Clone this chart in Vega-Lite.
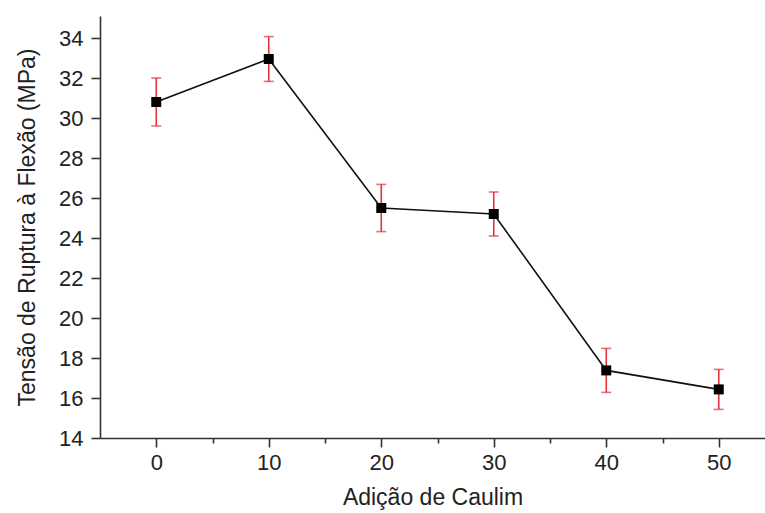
{
  "$schema": "https://vega.github.io/schema/vega-lite/v6.json",
  "width": 665,
  "height": 422,
  "autosize": {"type": "none"},
  "padding": {"left": 100, "top": 16, "right": 0, "bottom": 75},
  "background": "white",
  "config": {
    "view": {"stroke": null},
    "axis": {
      "labelFont": "Liberation Sans",
      "titleFont": "Liberation Sans",
      "labelFontSize": 22,
      "titleFontSize": 23,
      "titleFontWeight": "normal",
      "labelColor": "#222",
      "titleColor": "#222",
      "domainColor": "#333",
      "tickColor": "#333",
      "domainWidth": 1.6,
      "tickWidth": 1.6,
      "grid": false
    }
  },
  "data": {
    "values": [
      {"x": 0, "y": 30.8, "lo": 29.6, "hi": 32.0},
      {"x": 10, "y": 32.95, "lo": 31.83, "hi": 34.07},
      {"x": 20, "y": 25.5, "lo": 24.32, "hi": 26.68},
      {"x": 30, "y": 25.2, "lo": 24.1, "hi": 26.3},
      {"x": 40, "y": 17.38, "lo": 16.28, "hi": 18.48},
      {"x": 50, "y": 16.43, "lo": 15.43, "hi": 17.43}
    ]
  },
  "encoding": {
    "x": {
      "field": "x",
      "type": "quantitative",
      "scale": {"domain": [-5, 54.11], "nice": false, "zero": false},
      "axis": {
        "title": "Adição de Caulim",
        "values": [0, 5, 10, 15, 20, 25, 30, 35, 40, 45, 50],
        "labelExpr": "datum.value % 10 === 0 ? datum.label : ''",
        "tickSize": {"condition": {"test": "datum.value % 10 === 0", "value": 9}, "value": 5},
        "labelPadding": 5,
        "titlePadding": 13,
        "labelFlush": false
      }
    }
  },
  "layer": [
    {
      "mark": {"type": "line", "color": "#111", "strokeWidth": 1.6},
      "encoding": {
        "y": {
          "field": "y",
          "type": "quantitative",
          "title": "Tensão de Ruptura à Flexão (MPa)",
          "scale": {"domain": [14, 35.1], "nice": false, "zero": false},
          "axis": {
            "values": [14, 15, 16, 17, 18, 19, 20, 21, 22, 23, 24, 25, 26, 27, 28, 29, 30, 31, 32, 33, 34, 35],
            "labelExpr": "datum.value % 2 === 0 ? datum.label : ''",
            "tickSize": {"condition": {"test": "datum.value % 2 === 0", "value": 9}, "value": 5},
            "labelPadding": 8,
            "titlePadding": 19,
            "labelFlush": false
          }
        }
      }
    },
    {
      "mark": {
        "type": "errorbar",
        "color": "#e0353c",
        "ticks": {"size": 10, "thickness": 1.6},
        "rule": {"strokeWidth": 1.6}
      },
      "encoding": {
        "y": {"field": "lo", "type": "quantitative", "title": "Tensão de Ruptura à Flexão (MPa)"},
        "y2": {"field": "hi"}
      }
    },
    {
      "mark": {"type": "point", "shape": "square", "filled": true, "color": "#000", "opacity": 1, "size": 100},
      "encoding": {
        "y": {"field": "y", "type": "quantitative", "title": "Tensão de Ruptura à Flexão (MPa)"}
      }
    }
  ]
}
